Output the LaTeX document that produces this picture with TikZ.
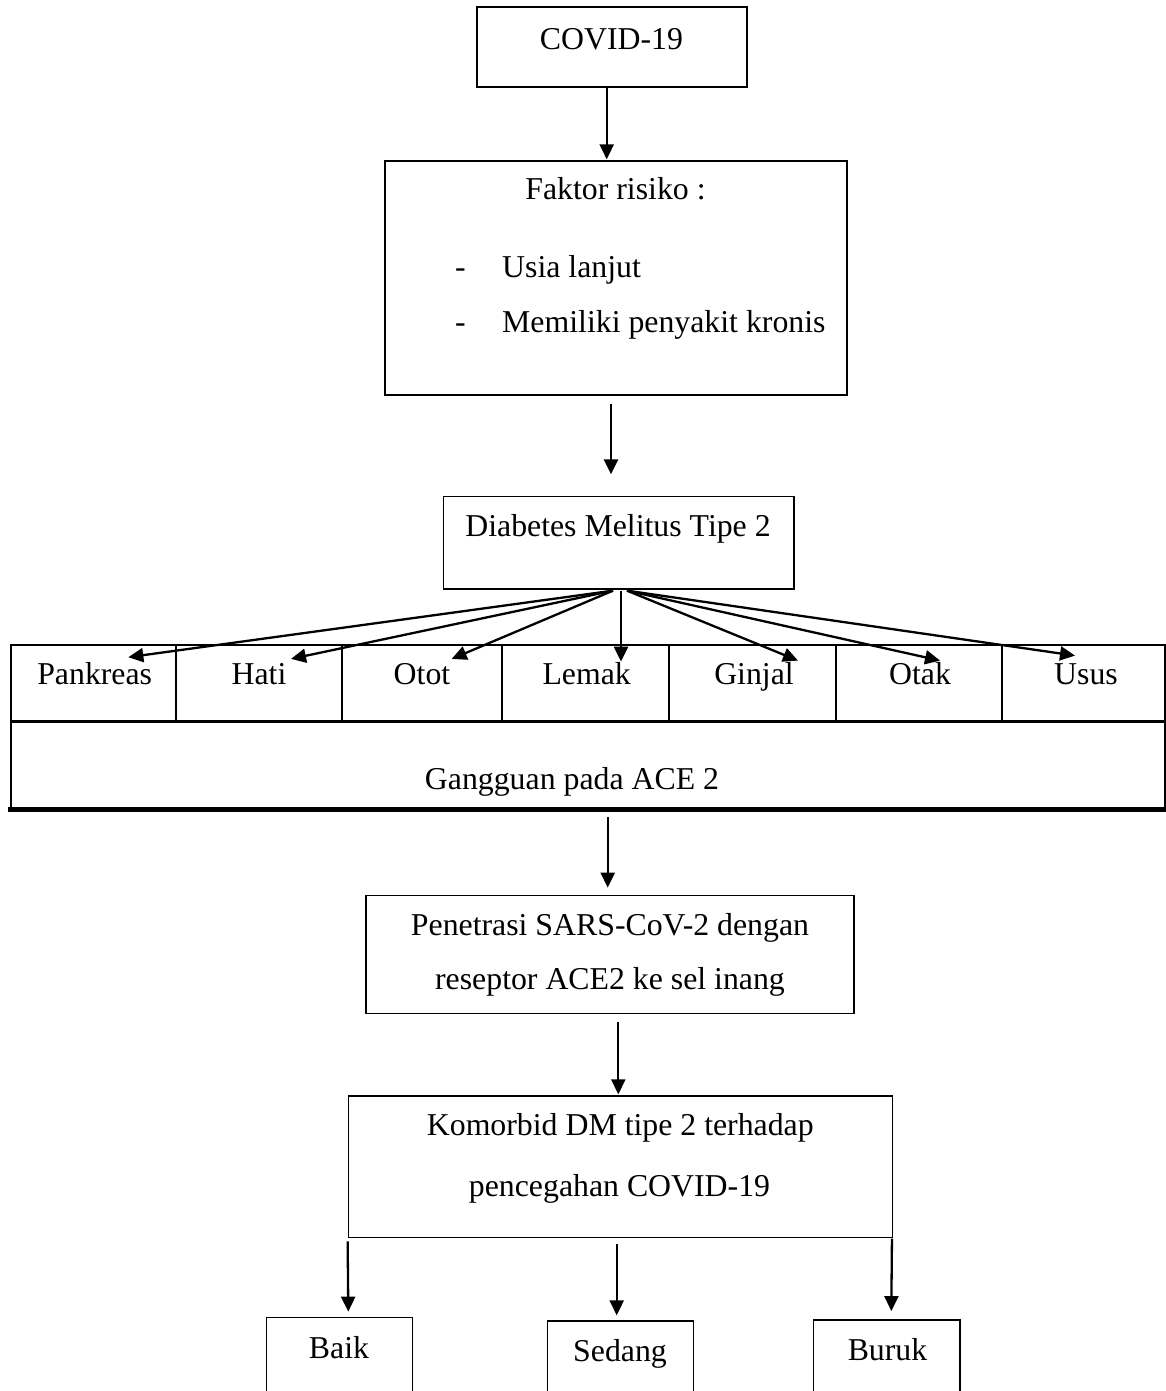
\documentclass[tikz,border=0pt]{standalone}
\usepackage{fontspec}
\setmainfont{Liberation Serif}
\usetikzlibrary{arrows.meta}
\begin{document}
\begin{tikzpicture}[x=1pt,y=-1pt,
  box/.style={draw, line width=1.3pt, rectangle, inner sep=0pt},
  organ/.style={draw, line width=2.2pt, rectangle, inner sep=0pt, minimum height=77.3pt},
  lbl/.style={anchor=base, inner sep=0pt, font=\fontsize{31.8}{38}\selectfont},
  arr/.style={line width=2.3pt, -{Triangle[length=15pt,width=14pt]}}]
\useasboundingbox (0,0) rectangle (1166,1391);
\fill[white] (0,0) rectangle (1166,1391);
\clip (0,0) rectangle (1166,1391);

% main boxes
\node[box, minimum width=270pt, minimum height=80pt] (covid) at (612,47) {};
\node[box, minimum width=462pt, minimum height=234pt] (faktor) at (616,278) {};
\node[box, minimum width=350.7pt, minimum height=92.3pt] (dm) at (618.65,542.85) {};

% organ row
\node[organ, minimum width=164.7pt] (pank) at (93.35,683.65) {};
\node[organ, minimum width=166.6pt] (hati) at (259,683.65) {};
\node[organ, minimum width=159.4pt] (otot) at (422,683.65) {};
\node[organ, minimum width=167.6pt] (lemak) at (585.5,683.65) {};
\node[organ, minimum width=166.7pt] (ginjal) at (752.65,683.65) {};
\node[organ, minimum width=166pt] (otak) at (919,683.65) {};
\node[organ, minimum width=163.3pt] (usus) at (1083.65,683.65) {};
\node[organ, minimum width=1154.3pt, minimum height=86pt] (gang) at (588.15,765.3) {};
\draw[line width=3.4pt] (gang.north west) -- (gang.north east);
\draw[line width=4.4pt] ([shift={(-2,0)}]gang.south west) -- (gang.south east);

\node[box, minimum width=488pt, minimum height=117.6pt] (pen) at (610,954.5) {};
\node[box, minimum width=544pt, minimum height=141.5pt] (kom) at (620.3,1166.75) {};
\node[box, minimum width=146pt, minimum height=102.7pt] (baik) at (339.7,1368.65) {};
\node[box, minimum width=146pt, minimum height=100pt] (sedang) at (620.3,1371) {};
\node[box, minimum width=146.3pt, minimum height=101pt] (buruk) at (886.85,1370.5) {};

% labels
\node[lbl] (tcovid) at (611.5,50) {COVID-19};
\node[lbl] (tfaktor) at (615.5,200) {Faktor risiko :};
\node[lbl, anchor=base west] (d1) at (455,277) {-};
\node[lbl, anchor=base west] (t1) at (502,277) {Usia lanjut};
\node[lbl, anchor=base west] (d2) at (455,332) {-};
\node[lbl, anchor=base west] (t2) at (502,332) {Memiliki penyakit kronis};
\node[lbl] (tdm) at (618,536.7) {Diabetes Melitus Tipe 2};
\node[lbl] (tpank) at (94.7,684.5) {Pankreas};
\node[lbl] (thati) at (259,684.5) {Hati};
\node[lbl] (totot) at (422,684.5) {Otot};
\node[lbl] (tlemak) at (586.7,684.5) {Lemak};
\node[lbl] (tginjal) at (754,684.5) {Ginjal};
\node[lbl] (totak) at (920,684.5) {Otak};
\node[lbl] (tusus) at (1086,684.5) {Usus};
\node[lbl] (tgang) at (572,789.3) {Gangguan pada ACE 2};
\node[lbl] (tpen1) at (610,935) {Penetrasi SARS-CoV-2 dengan};
\node[lbl] (tpen2) at (610,989.3) {reseptor ACE2 ke sel inang};
\node[lbl] (tkom1) at (620.3,1135.5) {Komorbid DM tipe 2 terhadap};
\node[lbl] (tkom2) at (619.5,1196.7) {pencegahan COVID-19};
\node[lbl] (tbaik) at (339,1358.3) {Baik};
\node[lbl] (tsedang) at (620,1361.7) {Sedang};
\node[lbl] (tburuk) at (887.5,1360) {Buruk};

% arrows
\draw[arr] ([shift={(-5.3,0)}]covid.south) -- ([shift={(-9.3,-1)}]faktor.north);
\draw[arr] ([shift={(-5,8)}]faktor.south) -- ([shift={(-7.65,-21.7)}]dm.north);
\draw[arr] ([shift={(-5.65,1)}]dm.south) -- ([shift={(35,13.3)}]pank.north);
\draw[arr] ([shift={(-5.65,1)}]dm.south) -- ([shift={(32,15)}]hati.north);
\draw[arr] ([shift={(-5.65,1)}]dm.south) -- ([shift={(29.7,15)}]otot.north);
\draw[arr] ([shift={(2.35,1)}]dm.south) -- ([shift={(35.5,17.7)}]lemak.north);
\draw[arr] ([shift={(8.35,1)}]dm.south) -- ([shift={(45.35,16.7)}]ginjal.north);
\draw[arr] ([shift={(8.35,1)}]dm.south) -- ([shift={(21,16.7)}]otak.north);
\draw[arr] ([shift={(8.35,1)}]dm.south) -- ([shift={(-8.65,11.7)}]usus.north);
\draw[arr] ([shift={(19.55,7.7)}]gang.south) -- ([shift={(-2.3,-7.4)}]pen.north);
\draw[arr] ([shift={(8.3,8.4)}]pen.south) -- ([shift={(-2,-1)}]kom.north);
\draw[arr] ([shift={(0,3.2)}]kom.south west) -- ([shift={(8.6,-5)}]baik.north);
\draw[arr] ([shift={(-3.6,5.8)}]kom.south) -- ([shift={(-3.6,-5)}]sedang.north);
\draw[arr] ([shift={(-1,0.5)}]kom.south east) -- ([shift={(4.45,-8.3)}]buruk.north);
\end{tikzpicture}
\end{document}
